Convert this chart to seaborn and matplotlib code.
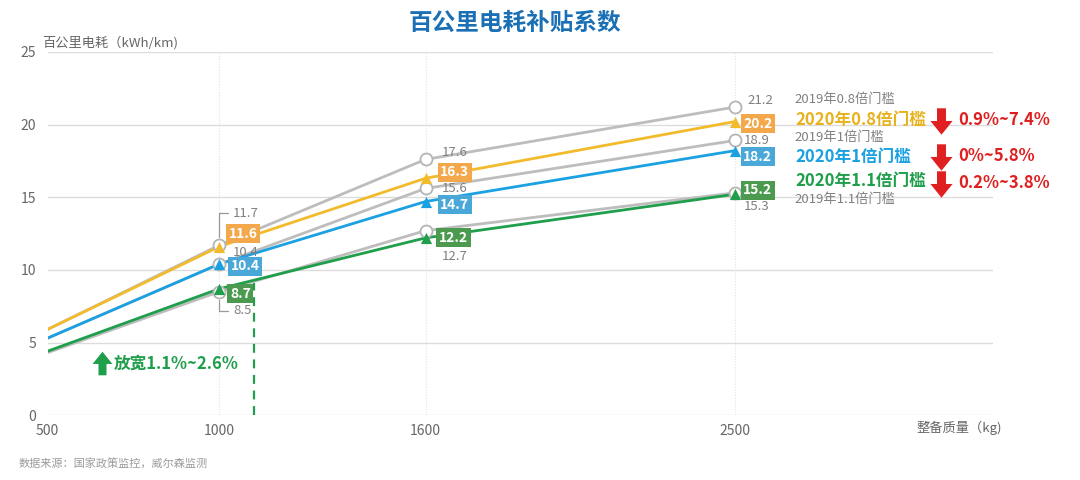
import numpy as np
import pandas as pd
import matplotlib
matplotlib.use("Agg")
import matplotlib.pyplot as plt
from matplotlib.path import Path
import seaborn as sns

# --- data ---
mass = [500, 1000, 1600, 2500]
y2019_08 = [5.9, 11.7, 17.6, 21.2]
y2020_08 = [5.9, 11.6, 16.3, 20.2]
y2019_10 = [5.3, 10.4, 15.6, 18.9]
y2020_10 = [5.3, 10.4, 14.7, 18.2]
y2019_11 = [4.3, 8.5, 12.7, 15.3]
y2020_11 = [4.4, 8.7, 12.2, 15.2]
ref_mass = 1100
ref_top = 9.1

series_names = ["2019年0.8倍门槛", "2020年0.8倍门槛", "2019年1倍门槛",
                "2020年1倍门槛", "2019年1.1倍门槛", "2020年1.1倍门槛"]
ranges = ["0.9%~7.4%", "0%~5.8%", "0.2%~3.8%"]
relax_text = "放宽1.1%~2.6%"

GREY = "#bdbdbd"
GOLD = "#f2bb2c"
BLUE = "#1ba1e2"
GREEN = "#1f9e4b"
BOX_GOLD = "#f3a94b"
BOX_BLUE = "#4aa8d8"
BOX_GREEN = "#4c9a4f"
RED = "#e02020"
TXT = "#808080"

sns.set_theme(style="white")
plt.rcParams['font.family'] = ['Noto Sans CJK SC', 'DejaVu Sans']
plt.rcParams['axes.unicode_minus'] = False

df = pd.DataFrame({
    "mass": mass * 6,
    "value": y2019_08 + y2020_08 + y2019_10 + y2020_10 + y2019_11 + y2020_11,
    "series": sum([[n] * 4 for n in series_names], []),
})

fig = plt.figure(figsize=(10.8, 4.8), dpi=100)
ax = fig.add_axes([0.044, 0.135, 0.875, 0.757])

# grid
for v in [0, 5, 10, 15, 20, 25]:
    ax.axhline(v, color="#dcdcdc", lw=1, zorder=0)
for m in mass[1:]:
    ax.axvline(m, color="#e3e3e3", lw=0.8, ls=(0, (1, 1.5)), zorder=0)

palette = {series_names[0]: GREY, series_names[2]: GREY, series_names[4]: GREY,
           series_names[1]: GOLD, series_names[3]: BLUE, series_names[5]: GREEN}

grey_df = df[df["series"].str.startswith("2019")]
col_df = df[df["series"].str.startswith("2020")]
sns.lineplot(data=grey_df, x="mass", y="value", hue="series", palette=palette,
             lw=2.0, legend=False, ax=ax, zorder=2)
sns.lineplot(data=col_df, x="mass", y="value", hue="series", palette=palette,
             lw=2.0, legend=False, ax=ax, zorder=3)

mk = grey_df[grey_df["mass"] > 500]
ax.scatter(mk["mass"], mk["value"], s=75, marker="o", facecolor="white",
           edgecolor="#b5b5b5", lw=1.3, zorder=4)
for name, c in [(series_names[1], GOLD), (series_names[3], BLUE), (series_names[5], GREEN)]:
    d = col_df[(col_df["series"] == name) & (col_df["mass"] > 500)]
    ax.scatter(d["mass"], d["value"], s=65, marker="^", color=c, lw=0, zorder=5)

# dashed reference line
ax.vlines(ref_mass, 0, ref_top, colors=GREEN, linestyles=(0, (4, 3)), lw=1.6, zorder=3)

ax.set_xlim(500, 3250)
ax.set_ylim(0, 25)
ax.set_xticks(mass)
ax.set_yticks([0, 5, 10, 15, 20, 25])
ax.tick_params(axis="both", length=0, labelsize=10, labelcolor="#666666")
ax.tick_params(axis="y", pad=8)
ax.tick_params(axis="x", pad=6)
ax.set_xlabel("")
ax.set_ylabel("")
sns.despine(ax=ax, left=True, bottom=True)

P = 0.72  # pixel -> point

def grey_label(x, y, dx, dy, leader=False):
    kw = {}
    if leader:
        kw["arrowprops"] = dict(arrowstyle="-", color="#999999", lw=0.9,
                                connectionstyle="angle,angleA=0,angleB=90,rad=0",
                                relpos=(0, 0.5), shrinkA=1, shrinkB=6)
    ax.annotate(f"{y:.1f}", (x, y), xytext=(dx * P, dy * P), textcoords="offset points",
                ha="center", va="center", fontsize=9.5, color=TXT, zorder=6, **kw)

def box_label(x, y, dx, dy, fc):
    ax.annotate(f"{y:.1f}", (x, y), xytext=(dx * P, dy * P), textcoords="offset points",
                ha="center", va="center", fontsize=10, color="white", fontweight="bold",
                bbox=dict(boxstyle="square,pad=0.18", fc=fc, ec="none"), zorder=7)

# 1000
grey_label(1000, y2019_08[1], 26, 32, leader=True)
box_label(1000, y2020_08[1], 24, 13, BOX_GOLD)
grey_label(1000, y2019_10[1], 26, 12)
box_label(1000, y2020_10[1], 26, -2, BOX_BLUE)
box_label(1000, y2020_11[1], 21, -5, BOX_GREEN)
grey_label(1000, y2019_11[1], 23, -19, leader=True)
# 1600
grey_label(1600, y2019_08[2], 29, 7)
box_label(1600, y2020_08[2], 29, 6, BOX_GOLD)
grey_label(1600, y2019_10[2], 29, 0)
box_label(1600, y2020_10[2], 29, -3, BOX_BLUE)
box_label(1600, y2020_11[2], 28, 0, BOX_GREEN)
grey_label(1600, y2019_11[2], 29, -26)
# 2500
grey_label(2500, y2019_08[3], 26, 7)
box_label(2500, y2020_08[3], 23, -2, BOX_GOLD)
grey_label(2500, y2019_10[3], 22, 0)
box_label(2500, y2020_10[3], 23, -6, BOX_BLUE)
box_label(2500, y2020_11[3], 23, 4, BOX_GREEN)
grey_label(2500, y2019_11[3], 22, -14)

# right-side series names
lx = 0.736
fig.text(lx, 0.792, series_names[0], fontsize=9.5, color=TXT, va="center")
fig.text(lx, 0.750, series_names[1], fontsize=12, color="#e8b21e", fontweight="bold", va="center")
fig.text(lx, 0.714, series_names[2], fontsize=9.5, color=TXT, va="center")
fig.text(lx, 0.673, series_names[3], fontsize=12, color=BLUE, fontweight="bold", va="center")
fig.text(lx, 0.623, series_names[5], fontsize=12, color=GREEN, fontweight="bold", va="center")
fig.text(lx, 0.585, series_names[4], fontsize=9.5, color=TXT, va="center")

# fat arrows
down_arrow = Path([(-0.17, 0.5), (0.17, 0.5), (0.17, 0.02), (0.42, 0.02), (0, -0.5),
                   (-0.42, 0.02), (-0.17, 0.02), (-0.17, 0.5)],
                  [Path.MOVETO] + [Path.LINETO] * 6 + [Path.CLOSEPOLY])
up_arrow = Path([(-0.17, -0.5), (0.17, -0.5), (0.17, -0.02), (0.42, -0.02), (0, 0.5),
                 (-0.42, -0.02), (-0.17, -0.02), (-0.17, -0.5)],
                [Path.MOVETO] + [Path.LINETO] * 6 + [Path.CLOSEPOLY])

for yy, txt in zip([0.748, 0.673, 0.617], ranges):
    ax.plot([0.871], [yy], transform=fig.transFigure, marker=down_arrow, ms=19,
            color=RED, mec=RED, mew=0, clip_on=False, ls="none")
    fig.text(0.887, yy + 0.002, txt, fontsize=12, color=RED, fontweight="bold", va="center")

ax.plot([0.094], [0.244], transform=fig.transFigure, marker=up_arrow, ms=17,
        color=GREEN, mec=GREEN, mew=0, clip_on=False, ls="none")
fig.text(0.105, 0.242, relax_text, fontsize=12, color=GREEN, fontweight="bold", va="center")

# texts
fig.text(0.477, 0.952, "百公里电耗补贴系数", fontsize=17, color="#1a6fb5",
         fontweight="bold", ha="center", va="center")
fig.text(0.039, 0.912, "百公里电耗（kWh/km)", fontsize=9.5, color="#666666", va="center")
fig.text(0.928, 0.108, "整备质量（kg)", fontsize=9.5, color="#666666", ha="right", va="center")
fig.text(0.017, 0.033, "数据来源：国家政策监控，威尔森监测", fontsize=8, color="#9a9a9a",
         va="center", style="italic")

fig.savefig("out.png", dpi=100)
